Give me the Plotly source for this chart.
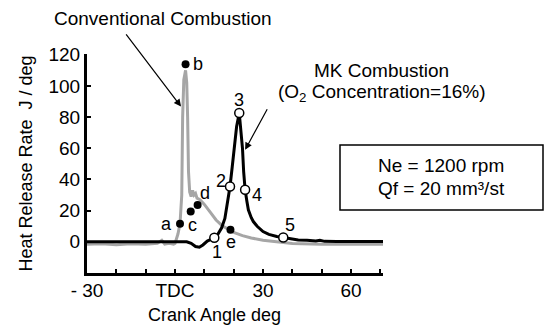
import plotly.graph_objects as go

FONT = "Liberation Sans, Arial, sans-serif"

# Conventional combustion (gray)
conv_x = [-30, -25, -20, -15, -10, -6, -4.5, -3.5, -2, -0.5, 0, 1, 1.7, 2.3, 2.6, 3.0, 3.6, 4.0, 4.3, 4.6,
          5.0, 5.5, 6.0, 6.5, 7.0, 7.5, 8.5, 10, 12, 14, 16, 18, 20, 23, 26, 30, 35, 40, 50, 60, 70.9]
conv_y = [-1.5, -1.2, -1.8, -1.2, -1.5, -1, 1, -1.5, -1, -1.5, -1, 5, 11.6, 30, 80, 104, 110, 102, 80, 45,
          32, 29, 33, 30, 31, 28, 27, 24, 19, 14, 10.5, 8, 6, 4, 2.5, 1, 0, -1, -1.5, -1.5, -1.5]

# MK combustion (black)
mk_x = [-30, 0, 4, 5.5, 7, 8.3, 9.5, 11, 12.5, 13.4, 14.5, 15.9, 17, 17.6, 18.75, 19.5, 20.3, 21, 21.9,
        22.3, 23.0, 23.4, 23.9, 24.5, 25, 26, 26.7, 28, 30, 32, 34.7, 36.9, 39, 42, 45, 48, 49.4, 51, 55, 70.9]
mk_y = [0, 0, 0, -1, -3, -3.5, -2, 0.5, 1.5, 2.6, 4.5, 9, 15, 22, 35.5, 48, 62, 74, 82.6,
        75, 60, 45, 33.4, 26, 20.5, 15.5, 13, 10, 6.6, 4.8, 3.4, 2.8, 2, 1.2, 1, 0.5, 1, 0.3, 0.2, 0.2]

# labelled points
conv_pt_names = ["a", "b", "c", "d", "e"]
conv_pt_x = [1.7, 3.6, 5.35, 7.7, 18.9]
conv_pt_y = [11.6, 114, 19.4, 23.7, 7.7]
conv_lbl_dx = [-14, 12, 2, 7, 1]
conv_lbl_dy = [0, 0, -13, 12, -12]

mk_pt_names = ["1", "2", "3", "4", "5"]
mk_pt_x = [13.4, 18.75, 21.9, 23.9, 36.9]
mk_pt_y = [2.6, 35.5, 82.6, 33.4, 2.8]
mk_lbl_dx = [3, -9, 0, 12, 7]
mk_lbl_dy = [-14, 5, 13, -5, 12]

x_tickvals = [-30, -20, -10, 0, 10, 20, 30, 40, 50, 60, 70]
x_ticktext = ["- 30", "", "", "TDC", "", "", "30", "", "", "60", ""]
y_tickvals = [0, 20, 40, 60, 80, 100, 120]

fig = go.Figure()
fig.add_trace(go.Scatter(x=conv_x, y=conv_y, mode="lines",
                         line=dict(color="#a6a6a6", width=3), showlegend=False))
fig.add_trace(go.Scatter(x=mk_x, y=mk_y, mode="lines",
                         line=dict(color="black", width=3), showlegend=False))
fig.add_trace(go.Scatter(x=conv_pt_x, y=conv_pt_y, mode="markers",
                         marker=dict(color="black", size=8), showlegend=False))
fig.add_trace(go.Scatter(x=mk_pt_x, y=mk_pt_y, mode="markers",
                         marker=dict(color="white", size=9, line=dict(color="black", width=1.5)),
                         showlegend=False))

annotations = []
for n, x, y, dx, dy in zip(conv_pt_names + mk_pt_names, conv_pt_x + mk_pt_x, conv_pt_y + mk_pt_y,
                           conv_lbl_dx + mk_lbl_dx, conv_lbl_dy + mk_lbl_dy):
    annotations.append(dict(x=x, y=y, xref="x", yref="y", text=n, showarrow=False,
                            xanchor="center", yanchor="middle",
                            xshift=dx, yshift=dy, font=dict(size=18, color="black", family=FONT)))

# arrows
annotations.append(dict(x=2.05, y=86.8, ax=-17.05, ay=134, xref="x", yref="y", axref="x", ayref="y",
                        text="", showarrow=True, arrowhead=2, arrowsize=1.2, arrowwidth=1.2,
                        arrowcolor="black"))
annotations.append(dict(x=23.9, y=59, ax=31.7, ay=86, xref="x", yref="y", axref="x", ayref="y",
                        text="", showarrow=True, arrowhead=2, arrowsize=1.2, arrowwidth=1.2,
                        arrowcolor="black"))

def px_x(p):
    return (p - 87) / 296.0

def px_y(p):
    return (273 - p) / 219.0

def label(px, py, text, size=19):
    return dict(x=px_x(px), y=px_y(py), xref="paper", yref="paper", text=text,
                xanchor="center", yanchor="middle", showarrow=False,
                font=dict(size=size, color="black", family=FONT))

annotations.append(label(163, 18, "Conventional Combustion"))
annotations.append(label(381, 70, "MK Combustion"))
annotations.append(label(382, 93, "(O<sub>2</sub> Concentration=16%)"))
annotations.append(label(441, 165, "Ne = 1200 rpm"))
annotations.append(label(441, 188, "Qf = 20 mm³/st"))
annotations.append(label(214, 315, "Crank Angle deg", 18))

fig.add_shape(type="rect", xref="paper", yref="paper", x0=px_x(340), x1=px_x(543), y0=px_y(210), y1=px_y(145),
              line=dict(color="black", width=1.5), fillcolor="white", layer="below")

fig.update_layout(
    width=547, height=327,
    margin=dict(l=87, r=164, t=54, b=54),
    paper_bgcolor="white", plot_bgcolor="white",
    font=dict(family=FONT, size=19, color="black"),
    annotations=annotations,
    xaxis=dict(range=[-30, 70.9], showline=True, linewidth=3, linecolor="black",
               ticks="inside", ticklen=4, tickwidth=2, tickcolor="black",
               tickvals=x_tickvals, ticktext=x_ticktext, showgrid=False, zeroline=False,
               tickfont=dict(size=19), ticklabelstandoff=-2),
    yaxis=dict(range=[-20, 120.5], showline=True, linewidth=3, linecolor="black",
               ticks="inside", ticklen=4, tickwidth=2, tickcolor="black",
               tickvals=y_tickvals, showgrid=False, zeroline=False,
               tickfont=dict(size=19),
               title=dict(text="Heat Release Rate\u00a0\u00a0J / deg", font=dict(size=18), standoff=12)),
)

fig.write_html("out.html")
